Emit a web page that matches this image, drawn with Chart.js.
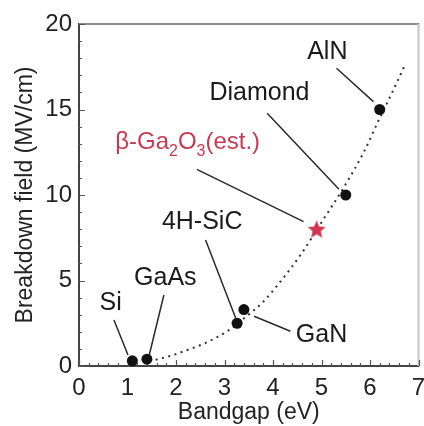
<!DOCTYPE html>
<html>
<head>
<meta charset="utf-8">
<script src="https://cdn.jsdelivr.net/npm/chart.js@4/dist/chart.umd.min.js"></script>
<style>
  html, body { margin: 0; padding: 0; background: #fff; }
  #wrap { width: 424px; height: 426px; }
</style>
</head>
<body>
<div id="wrap"><canvas id="chart" width="424" height="426"></canvas></div>
<script>
// Semiconductor materials: bandgap (eV) vs. breakdown field (MV/cm)
const materials = ['Si', 'GaAs', '4H-SiC', 'GaN', 'Diamond', 'AlN'];
const bandgap   = [1.1, 1.4, 3.26, 3.4, 5.5, 6.2];
const breakdown = [0.3, 0.4, 2.5, 3.3, 10, 15];

// Estimated value for beta gallium oxide
const ga2o3Bandgap   = [4.9];
const ga2o3Breakdown = [8];

// Dotted trend curve, as drawn
const trendBandgap   = [1.58, 1.9, 2.12, 2.61, 3.09, 3.45, 3.77, 4.18, 4.59, 5.01, 5.45, 5.86, 6.2, 6.45, 6.73];
const trendBreakdown = [0.37, 0.6, 0.82, 1.35, 2.1, 2.9, 3.67, 5.03, 6.59, 8.44, 10.4, 12.44, 14.5, 15.95, 17.66];

// Axis ticks
const xTicks = [0, 1, 2, 3, 4, 5, 6, 7];
const yTicks = [0, 5, 10, 15, 20];

// Callout placement in data units: label centre, leader start, leader end
const callouts = [
  { at: [0.652, 3.76],  from: [0.72, 2.69],  to: [1.01, 0.64] },
  { at: [1.78, 5.18],   from: [1.75, 4.15],  to: [1.44, 0.54] },
  { at: [2.54, 8.48],   from: [2.61, 7.37],  to: [3.23, 2.81] },
  { at: [5.0, 1.86],    from: [3.61, 2.91],  to: [4.36, 2.03] },
  { at: [3.72, 16.04],  from: [3.88, 14.78], to: [5.36, 10.33] },
  { at: [5.12, 18.43],  from: [5.31, 17.41], to: [6.07, 15.46] }
];
const ga2o3Callout = { at: [2.24, 13.16], from: [2.43, 11.5], to: [4.63, 8.44] };
const ga2o3Label = [
  { t: 'β-Ga' }, { t: '2', sub: true }, { t: 'O' }, { t: '3', sub: true }, { t: '(est.)' }
];

const FONT = "'Liberation Sans', Arial, Helvetica, sans-serif";
const RED = '#c93a52';

function toPoints(xs, ys) { return xs.map((v, i) => ({ x: v, y: ys[i] })); }

// Filled five-point star used as the marker for the estimate
function starImage(size, color) {
  const c = document.createElement('canvas');
  c.width = size; c.height = size;
  const g = c.getContext('2d');
  const cx = size / 2, cy = size / 2 + 0.8, R = size / 2, r = R * 0.45;
  g.beginPath();
  for (let i = 0; i < 10; i++) {
    const rad = i % 2 ? r : R;
    const ang = -Math.PI / 2 + i * Math.PI / 5;
    g.lineTo(cx + rad * Math.cos(ang), cy + rad * Math.sin(ang));
  }
  g.closePath();
  g.fillStyle = color;
  g.fill();
  return c;
}

const frameAndTicks = {
  id: 'frameAndTicks',
  beforeDatasetsDraw(chart) {
    const { ctx, chartArea: a, scales: { x, y } } = chart;
    ctx.save();
    ctx.lineWidth = 2;
    ctx.strokeStyle = '#8c8c8c';
    ctx.beginPath(); ctx.moveTo(a.left, a.top); ctx.lineTo(a.right + 1, a.top); ctx.stroke();
    ctx.strokeStyle = '#c8c8c8';
    ctx.beginPath(); ctx.moveTo(a.right, a.top); ctx.lineTo(a.right, a.bottom); ctx.stroke();

    // inward tick marks: minor every 0.2 eV and 1 MV/cm
    ctx.strokeStyle = '#555';
    ctx.lineWidth = 1.2;
    ctx.beginPath();
    for (let i = 0; i <= 35; i++) {
      const px = Math.round(x.getPixelForValue(i / 5)) + 0.5;
      const len = i % 5 === 0 ? 6 : 3;
      ctx.moveTo(px, a.bottom); ctx.lineTo(px, a.bottom - len);
    }
    for (let v = 0; v <= 20; v++) {
      const py = Math.round(y.getPixelForValue(v)) + 0.5;
      const len = v % 5 === 0 ? 6 : 3;
      ctx.moveTo(a.left, py); ctx.lineTo(a.left + len, py);
    }
    ctx.stroke();

    // leader lines
    ctx.strokeStyle = '#2a2a2a';
    ctx.lineWidth = 1.5;
    ctx.beginPath();
    [...callouts, ga2o3Callout].forEach(c => {
      ctx.moveTo(x.getPixelForValue(c.from[0]), y.getPixelForValue(c.from[1]));
      ctx.lineTo(x.getPixelForValue(c.to[0]), y.getPixelForValue(c.to[1]));
    });
    ctx.stroke();
    ctx.restore();
  },
  afterDatasetsDraw(chart) {
    const { ctx, scales: { x, y } } = chart;
    ctx.save();
    ctx.textBaseline = 'middle';
    ctx.textAlign = 'center';
    ctx.fillStyle = '#1a1a1a';
    ctx.font = '25px ' + FONT;
    materials.forEach((name, i) => {
      const c = callouts[i];
      ctx.fillText(name, x.getPixelForValue(c.at[0]), y.getPixelForValue(c.at[1]) + 1);
    });

    // beta-Ga2O3 label with subscripts
    const mainFont = '24px ' + FONT, subFont = '16px ' + FONT;
    let total = 0;
    ga2o3Label.forEach(p => { ctx.font = p.sub ? subFont : mainFont; total += ctx.measureText(p.t).width; });
    let px = x.getPixelForValue(ga2o3Callout.at[0]) - total / 2;
    const py = y.getPixelForValue(ga2o3Callout.at[1]) + 1;
    ctx.textAlign = 'left';
    ctx.fillStyle = RED;
    ga2o3Label.forEach(p => {
      ctx.font = p.sub ? subFont : mainFont;
      ctx.fillText(p.t, px, p.sub ? py + 10 : py);
      px += ctx.measureText(p.t).width;
    });
    ctx.restore();
  }
};

Chart.defaults.font.family = FONT;
Chart.defaults.color = '#222';

new Chart(document.getElementById('chart'), {
  type: 'scatter',
  data: {
    datasets: [
      {
        label: 'trend',
        data: toPoints(trendBandgap, trendBreakdown),
        showLine: true,
        borderColor: '#333',
        borderWidth: 2,
        borderDash: [2, 4.5],
        pointRadius: 0,
        tension: 0.4,
        cubicInterpolationMode: 'monotone',
        fill: false,
        order: 3
      },
      {
        label: 'materials',
        data: toPoints(bandgap, breakdown),
        pointRadius: 5.5,
        pointBackgroundColor: '#111',
        pointBorderWidth: 0,
        order: 2
      },
      {
        label: 'β-Ga2O3 (est.)',
        data: toPoints(ga2o3Bandgap, ga2o3Breakdown),
        pointStyle: starImage(19, '#d2354f'),
        order: 1
      }
    ]
  },
  options: {
    responsive: false,
    animation: false,
    devicePixelRatio: 1,
    clip: false,
    layout: { padding: { top: 24, right: 3, left: 0, bottom: 0 } },
    plugins: { legend: { display: false }, tooltip: { enabled: false } },
    scales: {
      x: {
        type: 'linear',
        min: 0, max: 7,
        afterBuildTicks: s => { s.ticks = xTicks.map(v => ({ value: v })); },
        afterFit: s => { s.height = 60; s.paddingLeft = 0; s.paddingRight = 0; },
        grid: { display: false, drawTicks: false },
        border: { display: true, color: '#444', width: 2 },
        ticks: { font: { size: 24 }, color: '#222', padding: 8, maxRotation: 0 },
        title: { display: true, text: 'Bandgap (eV)', font: { size: 23 }, color: '#222', padding: { top: 3, bottom: 0 } }
      },
      y: {
        type: 'linear',
        min: 0, max: 20,
        afterBuildTicks: s => { s.ticks = yTicks.map(v => ({ value: v })); },
        afterFit: s => { s.width = 79; s.paddingTop = 0; s.paddingBottom = 0; },
        grid: { display: false, drawTicks: false },
        border: { display: true, color: '#444', width: 2 },
        ticks: { font: { size: 24 }, color: '#222', padding: 7 },
        title: { display: true, text: 'Breakdown field (MV/cm)', font: { size: 23 }, color: '#222', padding: { top: 12, bottom: 0 } }
      }
    }
  },
  plugins: [frameAndTicks]
});
</script>
</body>
</html>
